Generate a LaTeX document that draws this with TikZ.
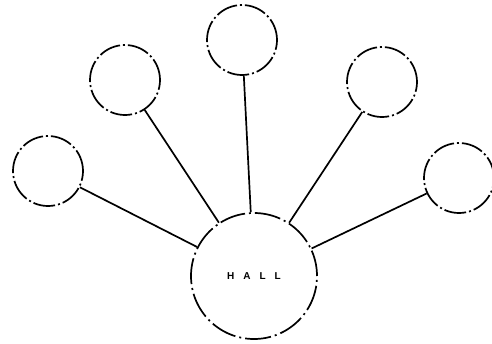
\documentclass[tikz,border=0pt]{standalone}
\usepackage{fontspec}
\setmainfont{Liberation Sans}
\begin{document}
\begin{tikzpicture}[x=1pt,y=-1pt,
  roombox/.style={circle,draw=black,line width=1.7pt,minimum size=70pt,inner sep=0pt,
    dash pattern=on 22pt off 3pt on 2pt off 3pt},
  hallbox/.style={circle,draw=black,line width=1.7pt,minimum size=126pt,inner sep=0pt,
    dash pattern=on 26pt off 4pt on 2pt off 4pt,font=\bfseries\fontsize{10}{11}\selectfont},
  link/.style={draw=black,line width=1.7pt}]
\useasboundingbox (0,0) rectangle (492,343);
\node[hallbox] (hall) at (254,276) {H\hspace{9pt}A\hspace{9pt}L\hspace{9pt}L};
\node[roombox] (r1) at (48,171) {};
\node[roombox] (r2) at (125,80) {};
\node[roombox] (r3) at (242,40) {};
\node[roombox] (r4) at (382,82) {};
\node[roombox] (r5) at (459,178) {};
\draw[link] (r1) -- (hall);
\draw[link] (r2) -- (hall);
\draw[link] (r3) -- (hall);
\draw[link] (r4) -- (hall);
\draw[link] (r5) -- (hall);
\end{tikzpicture}
\end{document}
